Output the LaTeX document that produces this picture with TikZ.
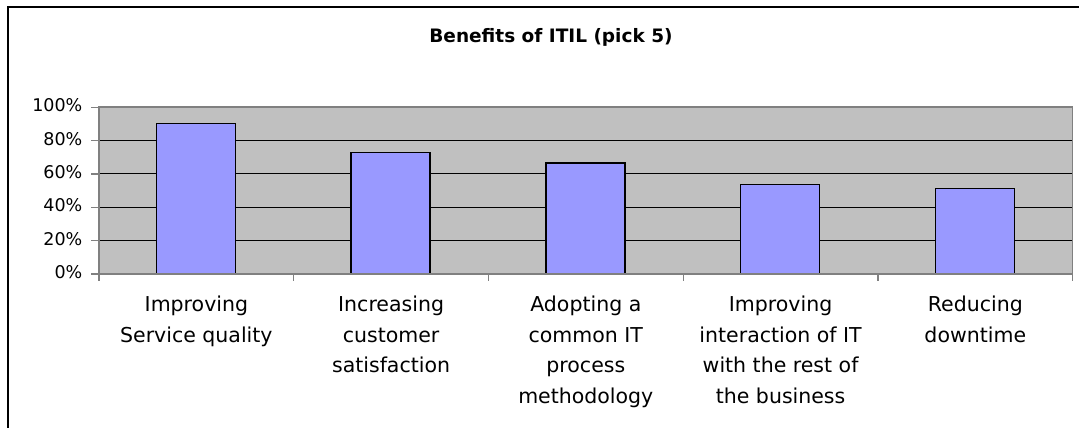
\documentclass[tikz,border=0pt]{standalone}
\usepackage{fontspec}
\setmainfont{DejaVu Sans}
\definecolor{plotgray}{HTML}{C0C0C0}
\definecolor{axisgray}{HTML}{808080}
\definecolor{barblue}{HTML}{9999FF}
\begin{document}
\begin{tikzpicture}[x=1pt,y=-1pt,
  barbox/.style={fill=barblue,draw=black,line width=1.4pt},
  gridline/.style={draw=black,line width=1pt},
  axisline/.style={draw=axisgray,line width=1.3pt},
  ylab/.style={anchor=base east,inner sep=0pt,font=\fontsize{17.5}{20}\selectfont},
  xlab/.style={anchor=north,align=center,inner sep=0pt,font=\fontsize{20.5}{30.5}\selectfont},
  charttitle/.style={anchor=base,inner sep=0pt,font=\fontsize{18.5}{22}\selectfont\bfseries}]
\useasboundingbox (0,0) rectangle (1079,428);
\clip (0,0) rectangle (1079,428);
% outer frame
\draw[line width=2pt] (8,7) rectangle (1100,450);
% title
\node[charttitle] (title) at (551,42.7) {Benefits of ITIL (pick 5)};
% plot area
\fill[plotgray] (99,107) rectangle (1072.7,274);
\foreach \v in {20,40,60,80}
  \draw[gridline] (99,{274-1.667*\v}) -- (1072.7,{274-1.667*\v});
% bars
\foreach \i/\v in {1/90.4,2/72.8,3/66.6,4/53.8,5/51.4}
  \draw[barbox] ({99+194.74*(\i-0.5)-40},274) rectangle ({99+194.74*(\i-0.5)+39},{274-1.667*\v});
% plot border and axes
\draw[axisline] (99,274) rectangle (1072.7,107);
\foreach \v in {0,20,40,60,80,100}{
  \draw[axisline] (91,{274-1.667*\v}) -- (99,{274-1.667*\v});
  \node[ylab] (y\v) at (82.5,{274-1.667*\v+4.5}) {\v\%};
}
\foreach \i in {0,...,5}
  \draw[axisline] ({99+194.74*\i},274) -- ({99+194.74*\i},280.5);
% category labels
\node[xlab] (c1) at (196.4,296) {Improving\\Service quality};
\node[xlab] (c2) at (391.1,296) {Increasing\\customer\\satisfaction};
\node[xlab] (c3) at (585.8,296) {Adopting a\\common IT\\process\\methodology};
\node[xlab] (c4) at (780.6,296) {Improving\\interaction of IT\\with the rest of\\the business};
\node[xlab] (c5) at (975.3,296) {Reducing\\downtime};
\end{tikzpicture}
\end{document}
